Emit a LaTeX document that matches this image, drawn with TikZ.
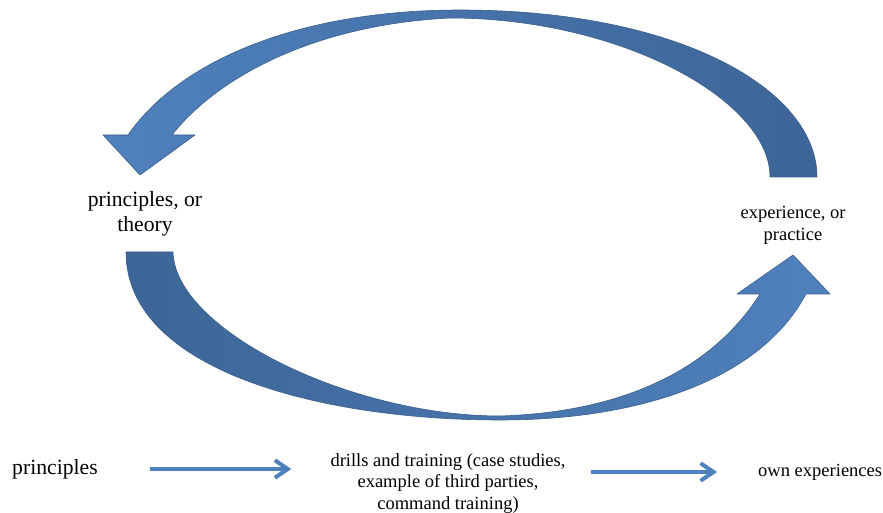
\documentclass[tikz,border=0pt]{standalone}
\usepackage{fontspec}
\setmainfont{Liberation Serif}
\usetikzlibrary{arrows.meta,positioning}
\definecolor{lightblue}{HTML}{4F81BD}
\definecolor{darkblue}{HTML}{3D6597}
\definecolor{edgeblue}{HTML}{385D8A}

\begin{document}
\begin{tikzpicture}[x=0.03cm,y=-0.03cm,
     band/.style = {draw=edgeblue, line width=0.5pt, line join=round},
     biglabel/.style = {align=center, inner sep=0pt, font=\fontsize{18.5}{21.5}\selectfont},
     smalllabel/.style = {align=center, inner sep=0pt, font=\fontsize{15.8}{18.6}\selectfont},
     flow/.style = {draw=lightblue, line width=3.4pt, -{Straight Barb[length=11pt,width=15pt,line width=3.4pt]}}
    ]
    \useasboundingbox (0,0) rectangle (883,513);

    \path[band, left color=lightblue, right color=darkblue]
        (817,177) .. controls (817,90) and (680,10) .. (460,10)
        .. controls (300,10) and (180,60) .. (128,135)
        -- (103,135) -- (140,175) -- (195,135) -- (172,135)
        .. controls (215,80) and (310,25) .. (450,18)
        .. controls (620,18) and (770,100) .. (770,177) -- cycle;

    \path[band, left color=darkblue, right color=lightblue]
        (126,252) .. controls (126,370) and (320,420) .. (500,420)
        .. controls (640,420) and (760,380) .. (806,294)
        -- (830,294) -- (793,255) -- (737,294) -- (760,294)
        .. controls (715,365) and (630,412) .. (500,416)
        .. controls (350,416) and (175,330) .. (173,252) -- cycle;

    \node [biglabel] (theory) at (145,214) {principles, or\\theory};
    \node [smalllabel] (practice) at (793,225) {experience, or\\practice};

    \node [biglabel, anchor=west] (prin) at (12,469) {principles};
    \node [smalllabel, anchor=north] (drills) at (448,453) {drills and training (case studies,\\example of third parties,\\command training)};
    \node [smalllabel, anchor=west] (own) at (758,472) {own experiences};

    \draw[flow, shorten <=1.56cm, shorten >=1.17cm] (prin.east) -- (prin.east -| drills.west);
    \draw[flow, shorten <=0.75cm, shorten >=1.23cm] (drills.east |- own.west) -- (own.west);
\end{tikzpicture}
\end{document}
